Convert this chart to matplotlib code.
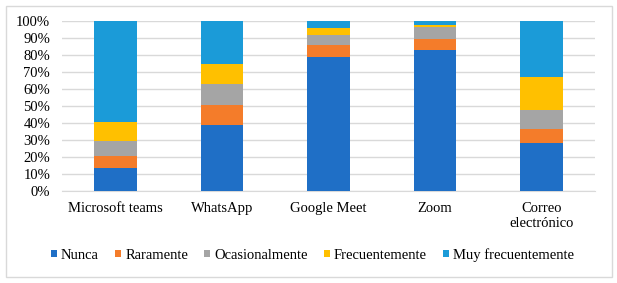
import numpy as np
import matplotlib.pyplot as plt
from matplotlib.patches import Rectangle

categorias = ["Microsoft teams", "WhatsApp", "Google Meet", "Zoom", "Correo\nelectrónico"]
series = ["Nunca", "Raramente", "Ocasionalmente", "Frecuentemente", "Muy frecuentemente"]
colores = ["#1F6FC6", "#F47C2A", "#A5A5A5", "#FFC000", "#1B9BD8"]

nunca = [13.5, 38.8, 78.6, 82.7, 27.8]
raramente = [6.6, 11.4, 7.2, 6.7, 8.2]
ocasionalmente = [9.1, 12.6, 5.7, 6.9, 11.3]
frecuentemente = [11.3, 11.6, 4.2, 1.2, 19.4]
muy_frecuentemente = [59.5, 25.6, 4.3, 2.5, 33.3]

plt.rcParams['font.family'] = ['Liberation Serif', 'DejaVu Serif']

fig = plt.figure(figsize=(6.17, 2.83), dpi=100)
# marco gris alrededor del grafico
fig.patches.append(Rectangle((6/617, 6/283), 606/617, 271/283, transform=fig.transFigure,
                             fill=False, edgecolor="#D9D9D9", linewidth=1))
ax = fig.add_axes([62/617, 1 - 190.5/283, 533/617, 169.5/283])

x = np.arange(len(categorias))
datos = [nunca, raramente, ocasionalmente, frecuentemente, muy_frecuentemente]
base = np.zeros(len(categorias))
for serie, vals, c in zip(series, datos, colores):
    ax.bar(x, vals, 0.4, bottom=base, color=c, label=serie, zorder=3)
    base = base + np.array(vals)

ax.set_xlim(-0.5, 4.5)
ax.set_ylim(0, 100)
ax.set_yticks(range(0, 101, 10))
ax.set_yticklabels([f"{v}%" for v in range(0, 101, 10)])
ax.set_xticks(x)
ax.set_xticklabels(categorias)
ax.tick_params(axis='both', length=0, labelsize=10.5, colors="#000000")
ax.tick_params(axis='x', pad=8)
ax.tick_params(axis='y', pad=8.5)
ax.grid(axis='y', color="#D9D9D9", linewidth=1, zorder=0)
for s in ["top", "right", "left"]:
    ax.spines[s].set_visible(False)
ax.spines["bottom"].set_color("#D9D9D9")

ax.legend(loc="center", bbox_to_anchor=(0.47, -0.38), ncol=5, frameon=False,
          fontsize=10.5, handlelength=0.42, handleheight=0.42, handletextpad=0.28,
          columnspacing=1.1)

fig.savefig("out.png", dpi=100)
